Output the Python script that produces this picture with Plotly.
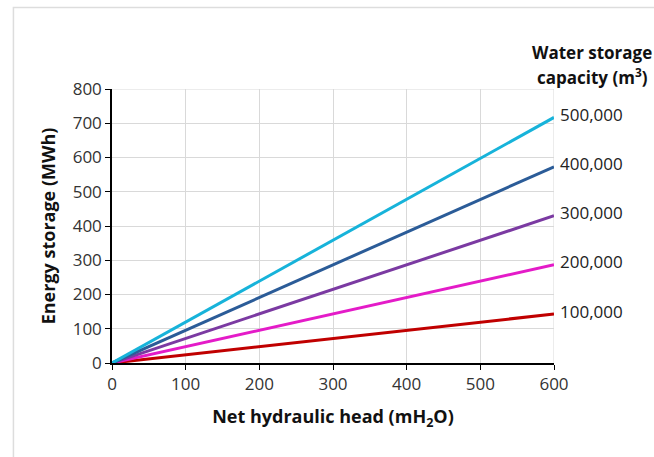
import plotly.graph_objects as go

head = [0, 600]
capacities = ["100,000", "200,000", "300,000", "400,000", "500,000"]
energy_at_600 = [143, 287, 430, 573, 717]
colors = ["#C00000", "#E41BC8", "#7B3AA2", "#2B5C98", "#17B3DA"]
legend_title = ["Water storage", "capacity (m<sup>3</sup>)"]

FONT = "Open Sans"

fig = go.Figure()
for cap, e, c in zip(capacities, energy_at_600, colors):
    fig.add_trace(go.Scatter(x=head, y=[0, e], mode="lines", line=dict(color=c, width=3),
                             name=cap, showlegend=False))
    fig.add_annotation(x=600, y=e, text=cap, showarrow=False, xanchor="left", yanchor="middle",
                       xshift=4, yshift=3, font=dict(family=FONT, size=17, color="#222"))

for txt, yp in zip(legend_title, [1.135, 1.047]):
    fig.add_annotation(xref="paper", yref="paper", x=1.087, y=yp,
                       text="<b>" + txt + "</b>", showarrow=False,
                       xanchor="center", yanchor="middle", align="center",
                       font=dict(family=FONT, size=17, color="#111"))

fig.add_shape(type="rect", xref="paper", yref="paper", x0=-0.223, x1=1.5, y0=-0.5, y1=1.297,
              line=dict(color="#DDDDDD", width=1.5), layer="below")

fig.update_layout(
    width=654, height=457,
    margin=dict(l=112, r=100, t=89, b=94),
    paper_bgcolor="white", plot_bgcolor="white",
    font=dict(family=FONT, size=17, color="#333"),
    xaxis=dict(range=[0, 600], tickvals=[0, 100, 200, 300, 400, 500, 600],
               showgrid=True, gridcolor="#D9D9D9", gridwidth=1,
               showline=True, linecolor="black", linewidth=1.5,
               ticks="outside", ticklen=5, tickcolor="black", zeroline=False,
               title=dict(text="<b>Net hydraulic head (mH<sub>2</sub>O)</b>",
                          font=dict(family=FONT, size=18, color="#111"), standoff=16)),
    yaxis=dict(range=[0, 800], tickvals=[0, 100, 200, 300, 400, 500, 600, 700, 800],
               showgrid=True, gridcolor="#D9D9D9", gridwidth=1,
               showline=True, linecolor="black", linewidth=1.5,
               ticks="outside", ticklen=5, tickcolor="black", zeroline=False,
               title=dict(text="<b>Energy storage (MWh)</b>",
                          font=dict(family=FONT, size=18, color="#111"), standoff=12)),
)
fig.add_shape(type="line", xref="x", yref="y", x0=600, x1=600, y0=0, y1=800,
              line=dict(color="#D9D9D9", width=1), layer="below")
fig.add_shape(type="line", xref="x", yref="y", x0=0, x1=600, y0=800, y1=800,
              line=dict(color="#D9D9D9", width=1), layer="below")

fig.write_html("out.html")
